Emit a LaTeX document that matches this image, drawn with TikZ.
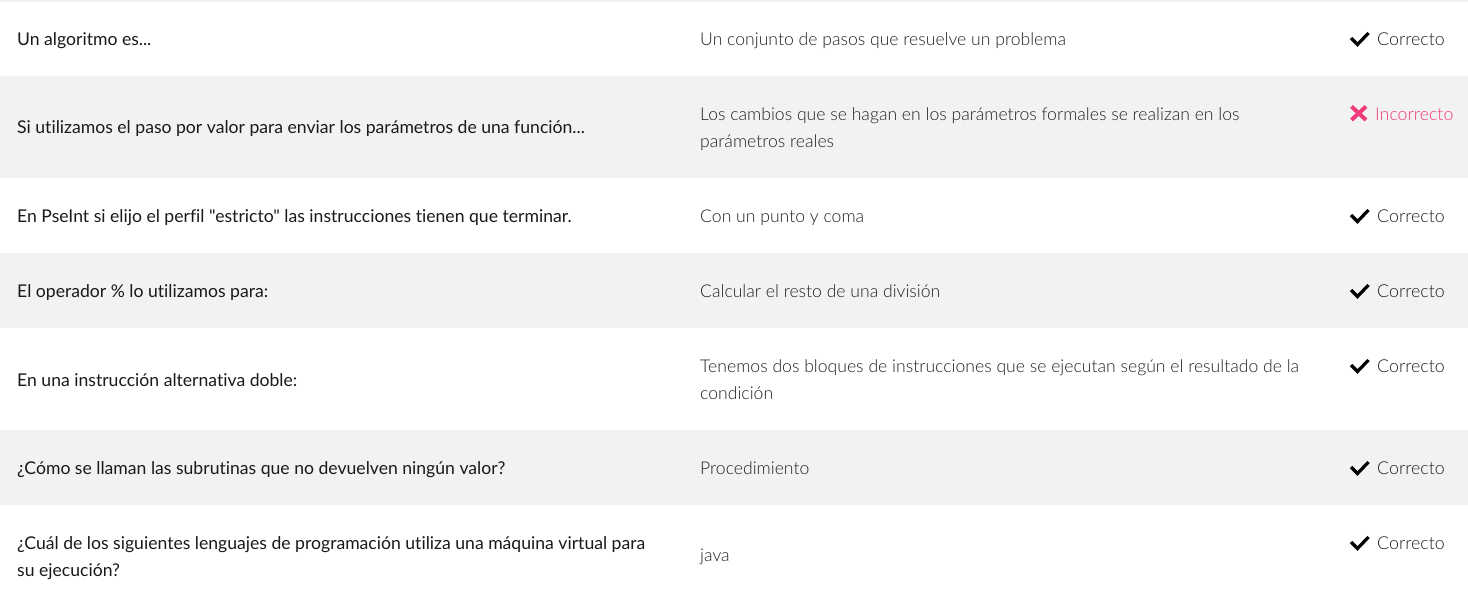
\documentclass[tikz,border=0pt]{standalone}
\usepackage{fontspec}
\setmainfont{Lato}[Ligatures={TeXOff,NoCommon}]
\newfontfamily\lightfont{Lato Light}[Ligatures={TeXOff,NoCommon}]
\definecolor{rowgray}{HTML}{F2F2F2}
\definecolor{qtext}{HTML}{1A1A1A}
\definecolor{atext}{HTML}{222222}
\definecolor{wrong}{HTML}{EF3B7C}
\tikzset{
  qcell/.style={anchor=base west, inner sep=0pt, align=left, text=qtext, font=\fontsize{17.6}{27}\selectfont},
  acell/.style={anchor=base west, inner sep=0pt, align=left, text=atext, font=\lightfont\fontsize{17.6}{27}\selectfont},
  okcell/.style={anchor=base west, inner sep=0pt, text=atext, font=\lightfont\fontsize{17.8}{27}\selectfont},
  badcell/.style={anchor=base west, inner sep=0pt, text=wrong, font=\lightfont\fontsize{17.8}{27}\selectfont},
  checkmark/.style={line width=3.2pt, draw=black, line cap=butt, line join=miter},
  crossmark/.style={line width=4pt, draw=wrong, line cap=butt},
}
\begin{document}
\begin{tikzpicture}[x=1pt,y=-1pt]
\useasboundingbox (0,0) rectangle (1468,595);
\fill[white] (0,0) rectangle (1468,595);
\fill[rowgray] (0,0) rectangle (1468,1.5);
\fill[rowgray] (0,76) rectangle (1468,178);
\fill[rowgray] (0,253) rectangle (1468,328);
\fill[rowgray] (0,430) rectangle (1468,505);

% row 1
\node[qcell] (q1) at (17,45) {Un algoritmo es...};
\node[acell] (a1) at (700,45) {Un conjunto de pasos que resuelve un problema};
\node[okcell] (r1) at (1377,45) {Correcto};
\draw[checkmark] (1351,38) -- (1357.5,44.5) -- (1368.5,33);

% row 2
\node[qcell] (q2) at (17,133) {Si utilizamos el paso por valor para enviar los parámetros de una función...};
\node[acell] (a2) at (700,147) {Los cambios que se hagan en los parámetros formales se realizan en los\\parámetros reales};
\node[badcell] (r2) at (1375,120) {Incorrecto};
\draw[crossmark] (1351.5,106.5) -- (1366,120) (1351.5,120) -- (1366,106.5);

% row 3
\node[qcell] (q3) at (17,222) {En PseInt si elijo el perfil "estricto" las instrucciones tienen que terminar.};
\node[acell] (a3) at (700,222) {Con un punto y coma};
\node[okcell] (r3) at (1377,222) {Correcto};
\draw[checkmark] (1351,215) -- (1357.5,221.5) -- (1368.5,210);

% row 4
\node[qcell] (q4) at (17,297) {El operador \% lo utilizamos para:};
\node[acell] (a4) at (700,297) {Calcular el resto de una división};
\node[okcell] (r4) at (1377,297) {Correcto};
\draw[checkmark] (1351,290) -- (1357.5,296.5) -- (1368.5,285);

% row 5
\node[qcell] (q5) at (17,386) {En una instrucción alternativa doble:};
\node[acell] (a5) at (700,399) {Tenemos dos bloques de instrucciones que se ejecutan según el resultado de la\\condición};
\node[okcell] (r5) at (1377,372) {Correcto};
\draw[checkmark] (1351,365) -- (1357.5,371.5) -- (1368.5,360);

% row 6
\node[qcell] (q6) at (17,474) {¿Cómo se llaman las subrutinas que no devuelven ningún valor?};
\node[acell] (a6) at (700,474) {Procedimiento};
\node[okcell] (r6) at (1377,474) {Correcto};
\draw[checkmark] (1351,467) -- (1357.5,473.5) -- (1368.5,462);

% row 7
\node[qcell] (q7) at (17,576) {¿Cuál de los siguientes lenguajes de programación utiliza una máquina virtual para\\su ejecución?};
\node[acell] (a7) at (700,561) {java};
\node[okcell] (r7) at (1377,549) {Correcto};
\draw[checkmark] (1351,542) -- (1357.5,548.5) -- (1368.5,537);
\end{tikzpicture}
\end{document}
